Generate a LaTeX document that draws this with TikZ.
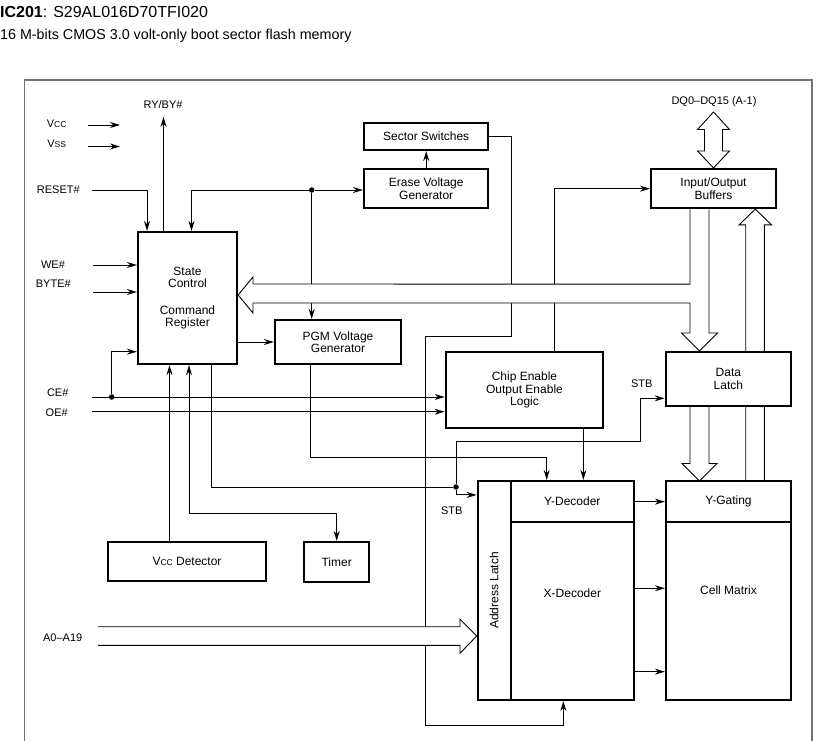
\documentclass[tikz,border=0pt]{standalone}
\usepackage{fontspec}
\setmainfont{Liberation Sans}
\usetikzlibrary{arrows.meta, positioning, calc, backgrounds}

\newcommand{\smallsub}[1]{{\fontsize{8.5}{9}\selectfont #1}}

\begin{document}
\begin{tikzpicture}[
  x=1pt, y=-1pt,
  boxtxt/.style={font=\fontsize{12}{12.5}\selectfont},
  blk/.style={draw, line width=2.2pt, fill=white, align=center, inner sep=1pt, boxtxt},
  lbl/.style={inner sep=0pt, font=\fontsize{11}{12}\selectfont},
  wire/.style={line width=0.9pt},
  arr/.style={wire, -{Stealth[length=10pt, width=6pt]}},
  darr/.style={wire, {Stealth[length=10pt, width=6pt]}-{Stealth[length=10pt, width=6pt]}},
  bus/.style={draw, line width=0.9pt, fill=white},
  dot/.style={circle, fill, inner sep=0pt, minimum size=5.5pt}
]
\useasboundingbox (0,0) rectangle (827,741);

% heading
\node[anchor=base west, inner sep=0pt, font=\fontsize{16}{16}\selectfont] (title) at (0,18) {\textbf{IC201}: S29AL016D70TFI020};
\node[anchor=base west, inner sep=0pt, font=\fontsize{14.3}{15}\selectfont] (subtitle) at (0,39.5) {16 M-bits CMOS 3.0 volt-only boot sector flash memory};

% frame
\draw[line width=1.5pt, black!55] (24.5,745) -- (24.5,80) -- (812,80) -- (812,745);

% blocks
\node[blk, minimum width=99pt, minimum height=132pt] (ctrl) at (187.5,298) {State\\Control\\[14pt]Command\\Register};
\node[blk, minimum width=124.3pt, minimum height=27.3pt] (sect) at (426.2,136.3) {Sector Switches};
\node[blk, minimum width=124.3pt, minimum height=39.3pt] (erase) at (426.2,188.7) {Erase Voltage\\Generator};
\node[blk, minimum width=126pt, minimum height=44pt] (pgm) at (338,342) {PGM Voltage\\Generator};
\node[blk, minimum width=157.6pt, minimum height=75.4pt] (ceoe) at (524.5,390) {Chip Enable\\Output Enable\\Logic};
\node[blk, minimum width=125pt, minimum height=39.3pt] (iobuf) at (713.5,188.7) {Input/Output\\Buffers};
\node[blk, minimum width=125.3pt, minimum height=53.7pt] (latch) at (728.4,378.9) {Data\\Latch};
\node[blk, minimum width=157.4pt, minimum height=39.3pt] (vdet) at (187,561.3) {V\smallsub{CC} Detector};
\node[blk, minimum width=64.7pt, minimum height=40.3pt] (timer) at (336.7,562.2) {Timer};
\node[blk, minimum width=33pt, minimum height=219pt, label={[boxtxt, rotate=90]center:Address Latch}] (adl) at (494.2,590.5) {};
\node[blk, minimum width=123.3pt, minimum height=41.3pt] (ydec) at (572.35,501.65) {Y-Decoder};
\node[blk, minimum width=123.3pt, minimum height=177.7pt, label={[boxtxt, yshift=18pt]center:X-Decoder}] (xdec) at (572.35,611.15) {};
\node[blk, minimum width=125pt, minimum height=41.3pt] (ygate) at (728.5,501.65) {Y-Gating};
\node[blk, minimum width=125pt, minimum height=177.7pt, label={[boxtxt, yshift=21pt]center:Cell Matrix}] (cell) at (728.5,611.15) {};

% pin and signal labels
\node[lbl] (lvcc) at (56.7,123.3) {V\smallsub{CC}};
\node[lbl] (lvss) at (56.7,144) {V\smallsub{SS}};
\node[lbl] (lrdy) at (163,105) {RY/BY\#};
\node[lbl] (lrst) at (58.3,190) {RESET\#};
\node[lbl] (lwe) at (53,265) {WE\#};
\node[lbl] (lbyte) at (53.3,284) {BYTE\#};
\node[lbl] (lce) at (57.7,392.7) {CE\#};
\node[lbl] (loe) at (56.7,412.7) {OE\#};
\node[lbl] (laddr) at (62.7,638) {A0--A19};
\node[lbl] (ldq) at (714,101.7) {DQ0--DQ15 (A-1)};
\node[lbl] (lstba) at (641.7,383.3) {STB};
\node[lbl] (lstbb) at (451.7,510.7) {STB};

% junctions
\node[dot] (j1) at (311.7,190) {};
\node[dot] (j2) at (111.7,397) {};
\node[dot] (j3) at (456,487) {};

% free ends and taps
\coordinate (vccin) at (88,125);
\coordinate (vssin) at (88,146.5);
\coordinate (rstin) at (91.7,190);
\coordinate (wein) at (93,265);
\coordinate (bytein) at (93,292);
\coordinate (cein) at (91.7,397);
\coordinate (oein) at (91.7,411.7);
\coordinate (ain) at (98,626.7);
\coordinate (cN1) at ([xshift=-40.5pt]ctrl.north);
\coordinate (cN2) at ([xshift=-24pt]ctrl.north);
\coordinate (cN3) at ([xshift=4pt]ctrl.north);
\coordinate (cS1) at ([xshift=-18pt]ctrl.south);
\coordinate (cS2) at ([xshift=1.5pt]ctrl.south);
\coordinate (cS3) at ([xshift=24.2pt]ctrl.south);
\coordinate (cW1) at ([yshift=-53.7pt]ctrl.west);
\coordinate (stbl) at ([yshift=-19.4pt]latch.west);
\coordinate (pgmtap) at ([xshift=-27.3pt]pgm.south);
\coordinate (ydtap1) at ([xshift=-25.65pt]ydec.north);
\coordinate (ydtap2) at ([xshift=11pt]ydec.north);
\coordinate (cetap) at ([xshift=29.8pt]ceoe.north);
\coordinate (xdtap) at ([xshift=-9pt]xdec.south);
\coordinate (bt) at ([xshift=-23.5pt]iobuf.south);

\begin{scope}[on background layer]
% control lines
\draw[arr] (vccin) -- ++(32,0);
\draw[arr] (vssin) -- ++(32,0);
\draw[arr] (cN2) -- ++(0,-114);
\draw[arr] (rstin) -| (cN1);
\draw[arr] (j1) -| (cN3);
\draw[arr] (j1) -- (erase.west |- j1);
\draw[arr] (j1) -- (pgm.north -| j1);
\draw[arr] (erase) -- (sect);
\draw[arr] (wein) -- (wein -| ctrl.west);
\draw[arr] (bytein) -- (bytein -| ctrl.west);
\draw[arr] (cein) -- (cein -| ceoe.west);
\draw[arr] (oein) -- (oein -| ceoe.west);
\draw[arr] (j2) |- (cW1);
\draw[arr] (ctrl.east |- pgm.west) -- (pgm.west);
\draw[arr] (cS1 |- vdet.north) -- (cS1);
\draw[darr] (cS2) -- ++(0,148.3) -| (timer.north);
\draw[wire] (cS3) |- (j3);
\draw[arr] (j3) |- ([yshift=-15pt]adl.north west);
\draw[arr] (j3) -- ++(0,-45.3) -| ($(stbl)+(-24,0)$) -- (stbl);
\draw[arr] (pgmtap) -- ++(0,92) -| (ydtap1);
\draw[arr] (ydtap2 |- ceoe.south) -- (ydtap2);
\draw[arr] (cetap) |- (iobuf.west);
\draw[arr] (sect.east) -- ++(21.7,0) -- ++(0,199.7) -- ++(-85.7,0) -- ++(0,389.7) -| (xdtap);
\draw[arr] (ydec.east) -- (ygate.west);
\draw[arr] ([yshift=22.9pt]xdec.east) -- ([yshift=22.9pt]cell.west);
\draw[arr] ([yshift=-60.5pt]xdec.east) -- ([yshift=-60.5pt]cell.west);

% buses
\draw[bus] (iobuf.north) -- ++(-16,-17) -- ++(7,0) -- ++(0,-21.4) -- ++(-7,0) -- ++(16,-17.6)
  -- ++(16,17.6) -- ++(-7,0) -- ++(0,21.4) -- ++(7,0) -- cycle;
\draw[bus] (bt) -- ++(0,74.7) -- (253,284) -- (253,277) -- ([yshift=3pt]ctrl.east) -- (253,313)
  -- (253,303) -- (690,303) -- (690,333) -- (681.5,333) -- (699.5,351) -- (717.5,333)
  -- (709,333) -- (709,209.3);
\draw[bus] ([xshift=-38.4pt]latch.south) -- ++(0,56.6) -- ++(-8,0) -- ++(17.5,17.5)
  -- ++(17.5,-17.5) -- ++(-8,0) -- ++(0,-56.6);
\draw[bus] ([xshift=17.2pt]ygate.north) -- ++(0,-255) -- ++(-6.7,0) -- ++(16.3,-15.7)
  -- ++(16.3,15.7) -- ++(-7.3,0) -- ++(0,255);
\draw[bus] (ain) -- ++(362,0) -- ++(0,-7.4) -- ++(16.7,16.7) -- ++(-16.7,17.3) -- ++(0,-8) -- ++(-362,0);
\end{scope}
\end{tikzpicture}
\end{document}
